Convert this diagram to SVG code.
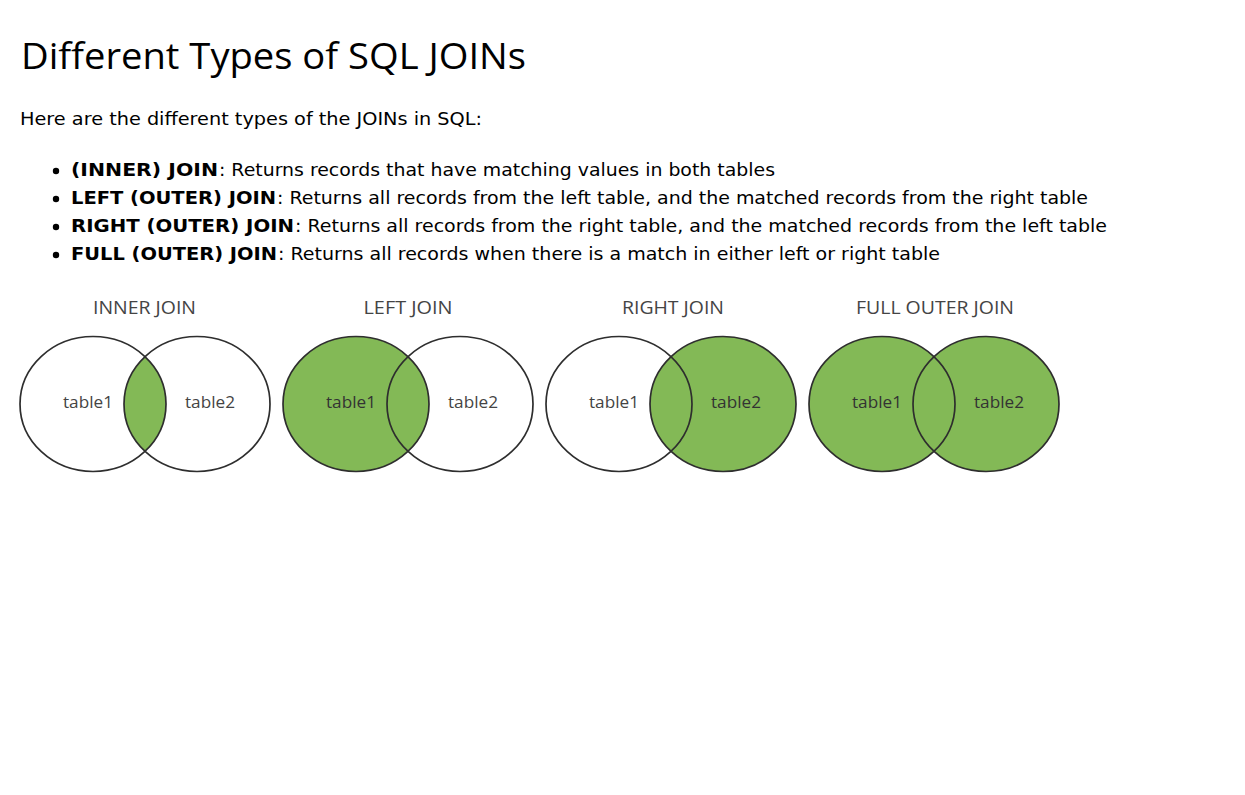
<svg xmlns="http://www.w3.org/2000/svg" width="1245" height="795" viewBox="0 0 1245 795">
<style>
.h1{font-family:"Open Sans","Noto Sans","DejaVu Sans",sans-serif;font-size:37px;fill:#000}
.p{font-family:"DejaVu Sans","Liberation Sans",sans-serif;font-size:17.5px;fill:#000}
.b{font-weight:bold}
.lbl{font-family:"Open Sans","Liberation Sans",sans-serif;font-size:18px;fill:#444}
.tl{font-family:"Open Sans","Liberation Sans",sans-serif;font-size:17px;fill:#444}
.tg{fill:#333}
.e{stroke:#2e2e2e;stroke-width:1.7}
.n{fill:none}
.g{fill:#83b956}
</style>
<defs>
<clipPath id="c1"><ellipse cx="93" cy="404" rx="73" ry="67.5"/></clipPath>
</defs>
<rect width="1245" height="795" fill="#fff"/>
<g id="heading">
<text class="h1" x="21" y="69" textLength="505" lengthAdjust="spacingAndGlyphs">Different Types of SQL JOINs</text>
<text class="p" x="20" y="125" textLength="462" lengthAdjust="spacingAndGlyphs">Here are the different types of the JOINs in SQL:</text>
</g>
<g id="list">
<circle cx="56" cy="171" r="3.2"/>
<circle cx="56" cy="199" r="3.2"/>
<circle cx="56" cy="227" r="3.2"/>
<circle cx="56" cy="255" r="3.2"/>
<text class="p b" x="71" y="176" textLength="147" lengthAdjust="spacingAndGlyphs">(INNER) JOIN</text>
<text class="p" x="219" y="176" textLength="556" lengthAdjust="spacingAndGlyphs">: Returns records that have matching values in both tables</text>
<text class="p b" x="71" y="204" textLength="205" lengthAdjust="spacingAndGlyphs">LEFT (OUTER) JOIN</text>
<text class="p" x="277" y="204" textLength="811" lengthAdjust="spacingAndGlyphs">: Returns all records from the left table, and the matched records from the right table</text>
<text class="p b" x="71" y="232" textLength="223" lengthAdjust="spacingAndGlyphs">RIGHT (OUTER) JOIN</text>
<text class="p" x="295" y="232" textLength="812" lengthAdjust="spacingAndGlyphs">: Returns all records from the right table, and the matched records from the left table</text>
<text class="p b" x="71" y="260" textLength="206" lengthAdjust="spacingAndGlyphs">FULL (OUTER) JOIN</text>
<text class="p" x="278" y="260" textLength="662" lengthAdjust="spacingAndGlyphs">: Returns all records when there is a match in either left or right table</text>
</g>
<g id="inner-join">
<text class="lbl" x="144.5" y="314" text-anchor="middle" textLength="103" lengthAdjust="spacingAndGlyphs">INNER JOIN</text>
<ellipse class="g" cx="197" cy="404" rx="73" ry="67.5" clip-path="url(#c1)"/>
<ellipse class="e n" cx="93" cy="404" rx="73" ry="67.5"/>
<ellipse class="e n" cx="197" cy="404" rx="73" ry="67.5"/>
<text class="tl" x="88" y="408" text-anchor="middle" textLength="50" lengthAdjust="spacingAndGlyphs">table1</text>
<text class="tl" x="210" y="408" text-anchor="middle" textLength="50" lengthAdjust="spacingAndGlyphs">table2</text>
</g>
<g id="left-join">
<text class="lbl" x="408" y="314" text-anchor="middle" textLength="89" lengthAdjust="spacingAndGlyphs">LEFT JOIN</text>
<ellipse class="e g" cx="356" cy="404" rx="73" ry="67.5"/>
<ellipse class="e n" cx="460" cy="404" rx="73" ry="67.5"/>
<text class="tl tg" x="351" y="408" text-anchor="middle" textLength="50" lengthAdjust="spacingAndGlyphs">table1</text>
<text class="tl" x="473" y="408" text-anchor="middle" textLength="50" lengthAdjust="spacingAndGlyphs">table2</text>
</g>
<g id="right-join">
<text class="lbl" x="673" y="314" text-anchor="middle" textLength="102" lengthAdjust="spacingAndGlyphs">RIGHT JOIN</text>
<ellipse class="e g" cx="723" cy="404" rx="73" ry="67.5"/>
<ellipse class="e n" cx="619" cy="404" rx="73" ry="67.5"/>
<text class="tl" x="614" y="408" text-anchor="middle" textLength="50" lengthAdjust="spacingAndGlyphs">table1</text>
<text class="tl tg" x="736" y="408" text-anchor="middle" textLength="50" lengthAdjust="spacingAndGlyphs">table2</text>
</g>
<g id="full-outer-join">
<text class="lbl" x="935" y="314" text-anchor="middle" textLength="158" lengthAdjust="spacingAndGlyphs">FULL OUTER JOIN</text>
<ellipse class="g" cx="882" cy="404" rx="73" ry="67.5"/>
<ellipse class="g" cx="986" cy="404" rx="73" ry="67.5"/>
<ellipse class="e n" cx="882" cy="404" rx="73" ry="67.5"/>
<ellipse class="e n" cx="986" cy="404" rx="73" ry="67.5"/>
<text class="tl tg" x="877" y="408" text-anchor="middle" textLength="50" lengthAdjust="spacingAndGlyphs">table1</text>
<text class="tl tg" x="999" y="408" text-anchor="middle" textLength="50" lengthAdjust="spacingAndGlyphs">table2</text>
</g>
<g id="connectors"/>
</svg>
